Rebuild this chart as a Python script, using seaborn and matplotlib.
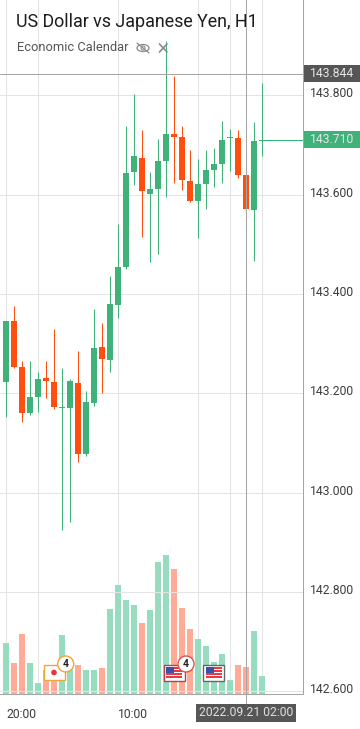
import numpy as np
import pandas as pd
import matplotlib
matplotlib.use("Agg")
import matplotlib.pyplot as plt
from matplotlib.patches import Rectangle, Circle, Ellipse
from matplotlib.transforms import ScaledTranslation
import seaborn as sns

opens = [143.222,143.346,143.253,143.161,143.193,143.232,143.223,143.171,143.171,143.221,143.077,
         143.181,143.293,143.268,143.379,143.455,143.645,143.674,143.602,143.612,143.669,143.722,
         143.717,143.628,143.588,143.622,143.650,143.663,143.715,143.714,143.640,143.569,143.709]
closes = [143.346,143.253,143.161,143.192,143.230,143.224,143.173,143.172,143.224,143.077,143.182,
          143.291,143.270,143.380,143.454,143.643,143.678,143.608,143.611,143.668,143.722,143.716,
          143.630,143.588,143.622,143.650,143.662,143.710,143.716,143.640,143.571,143.708,143.710]
highs = [143.346,143.376,143.265,143.265,143.243,143.265,143.329,143.251,143.230,143.285,143.204,
         143.369,143.342,143.436,143.541,143.739,143.803,143.731,143.646,143.712,143.910,143.839,
         143.739,143.690,143.672,143.690,143.694,143.748,143.732,143.731,143.688,143.747,143.825]
lows = [143.153,143.252,143.143,143.156,143.163,143.191,143.169,142.924,142.942,143.062,143.073,
        143.175,143.200,143.244,143.351,143.450,143.619,143.514,143.464,143.480,143.595,143.624,
        143.610,143.586,143.513,143.571,143.616,143.624,143.648,143.634,143.526,143.467,143.679]
volumes = [51,31,60,31,11,24,24,59,28,29,24,24,26,85,109,94,89,71,84,132,139,125,86,65,55,48,32,40,14,29,27,63,18]
price_ticks = [143.8,143.6,143.4,143.2,143.0,142.8,142.6]
grid_positions = [0,4,14,24,28,32]
time_labels = ["20:00","","10:00","","",""]
last_price = 143.710
cross_price = 143.844
cross_index = 30
cross_label = "2022.09.21 02:00"

GREEN = "#3fb27a"
RED = "#ff4e0e"
VGREEN = "#98dcc0"
VRED = "#ffab96"
GRID = "#e4e4e4"
CROSS = "#a6a6a6"
TXT = "#3c3c3c"

sns.set_theme(style="white")
plt.rcParams['font.family'] = ['Roboto', 'DejaVu Sans']

W, H = 360, 729
fig = plt.figure(figsize=(W/100, H/100), dpi=100, facecolor="white")
box = [0, 35/H, 302.5/W, 694/H]

df = pd.DataFrame({"i": np.arange(len(opens)), "open": opens, "close": closes,
                   "high": highs, "low": lows, "vol": volumes})
df["dir"] = np.where(df["close"] >= df["open"], "up", "down")
df.loc[df["i"].isin([5, 6]), "dir"] = "down"

# volume panel
axv = fig.add_axes(box, zorder=1)
sns.barplot(data=df, x="i", y="vol", hue="dir", palette={"up": VGREEN, "down": VRED},
            native_scale=True, dodge=False, width=0.85, legend=False, ax=axv, linewidth=0, saturation=1)
axv.set_ylim(0, 694)
axv.set_xlim(-0.75, 37.06)
axv.set_xlabel(""); axv.set_ylabel("")
axv.set_yticks([])
axv.set_xticks(grid_positions, labels=time_labels)
axv.tick_params(axis="x", length=0, pad=10, labelsize=8.7, labelcolor=TXT)
for t in axv.get_xticklabels():
    t.set_ha("left")
axv.grid(axis="x", color=GRID, lw=0.75)
axv.set_axisbelow(True)
sns.despine(ax=axv, top=True, left=True, right=True, bottom=True)

# price panel
ax = fig.add_axes(box, zorder=2, facecolor="none")
ax.set_xlim(-0.75, 37.06)
ax.set_ylim(142.5946, 143.9923)
ax.set_xticks([])
ax.yaxis.tick_right()
ax.set_yticks(price_ticks, labels=[f"{p:.3f}" for p in price_ticks])
ax.tick_params(axis="y", length=0, pad=5.5, labelsize=8.7, labelcolor=TXT)
off = ScaledTranslation(0, 3/100, fig.dpi_scale_trans)
for t in ax.get_yticklabels():
    t.set_transform(t.get_transform() + off)
ax.grid(axis="y", color=GRID, lw=0.75)
ax.set_axisbelow(True)
for s in ["top", "left"]:
    ax.spines[s].set_visible(False)
for s in ["right", "bottom"]:
    ax.spines[s].set_color(CROSS)
    ax.spines[s].set_linewidth(0.75)

colors = [GREEN if d == "up" else RED for d in df["dir"]]
ax.vlines(df["i"], df["low"], df["high"], colors=colors, lw=0.75, zorder=3)
body_lo = np.minimum(df["open"], df["close"])
body_h = np.maximum(np.abs(df["close"] - df["open"]), 0.0012)
bar_colors = colors
ax.bar(df["i"], body_h, bottom=body_lo, width=0.75, color=bar_colors, linewidth=0, zorder=4)

# crosshair and last price
ax.axhline(cross_price, color=CROSS, lw=0.75, zorder=5)
ax.axvline(cross_index, ymin=-9/694, ymax=1, color=CROSS, lw=0.75, zorder=5, clip_on=False)
ax.hlines(last_price, 31.7, 37.06, color=GREEN, lw=0.75, zorder=5)

# overlay in pixel coordinates for chart furniture
ov = fig.add_axes([0, 0, 1, 1], zorder=5, facecolor="none")
ov.set_xlim(0, W); ov.set_ylim(H, 0); ov.axis("off")

ov.text(16, 21.5, "US Dollar vs Japanese Yen, H1", fontsize=12.9, color="#1c1c1c", va="center", ha="left")
ov.text(17, 47.5, "Economic Calendar", fontsize=9.3, color="#555555", va="center", ha="left")
# hidden-eye icon
ov.add_patch(Ellipse((143, 48), 12, 7, fill=False, ec="#8a8a8a", lw=0.9))
ov.add_patch(Circle((143, 48), 2, fill=False, ec="#8a8a8a", lw=0.8))
ov.plot([137, 149], [43, 53], color="#8a8a8a", lw=0.9)
# close cross
ov.plot([159.5, 167], [44, 52], color="#8a8a8a", lw=1.2)
ov.plot([159.5, 167], [52, 44], color="#8a8a8a", lw=1.2)

def tag(y0, y1, color, s):
    ov.add_patch(Rectangle((304, y0), 56, y1 - y0, fc=color, ec="none"))
    ov.text(310, (y0 + y1)/2 - 0.3, s, color="#e6e6e6", fontsize=8.7, va="center", ha="left")

tag(65, 82, "#565656", f"{cross_price:.3f}")
tag(131, 148, "#3fb27a", f"{last_price:.3f}")
ov.add_patch(Rectangle((196, 704), 100, 18, fc="#565656", ec="none"))
ov.text(246, 712.8, cross_label, color="#e0e0e0", fontsize=8.7, va="center", ha="center")

def us_flag(x0, y0, edge):
    ov.add_patch(Rectangle((x0, y0), 21, 16, fc="white", ec=edge, lw=1, zorder=6))
    for k in range(4):
        ov.add_patch(Rectangle((x0 + 2.5, y0 + 2.5 + k*3), 16, 1.7, fc="#ea3b45", ec="none", zorder=7))
    ov.add_patch(Rectangle((x0 + 2.5, y0 + 2.5), 8, 5.5, fc="#3b4ea8", ec="none", zorder=8))

def badge(x, y, edge):
    ov.add_patch(Circle((x, y), 8, fc="white", ec=edge, lw=1, zorder=9))
    ov.text(x, y + 0.3, "4", fontsize=7.5, fontweight="bold", color="#222222", va="center", ha="center", zorder=10)

ov.add_patch(Rectangle((43.5, 665), 21, 15, fc="white", ec="#eda63c", lw=1, zorder=6))
ov.add_patch(Circle((54, 672.5), 2.8, fc="#e8323c", ec="none", zorder=7))
badge(65.7, 664, "#eda63c")
us_flag(163.5, 664.5, "#a8454a")
badge(186, 664, "#d9534f")
us_flag(203, 664.5, "#666666")

fig.savefig("out.png", dpi=100, facecolor="white")
